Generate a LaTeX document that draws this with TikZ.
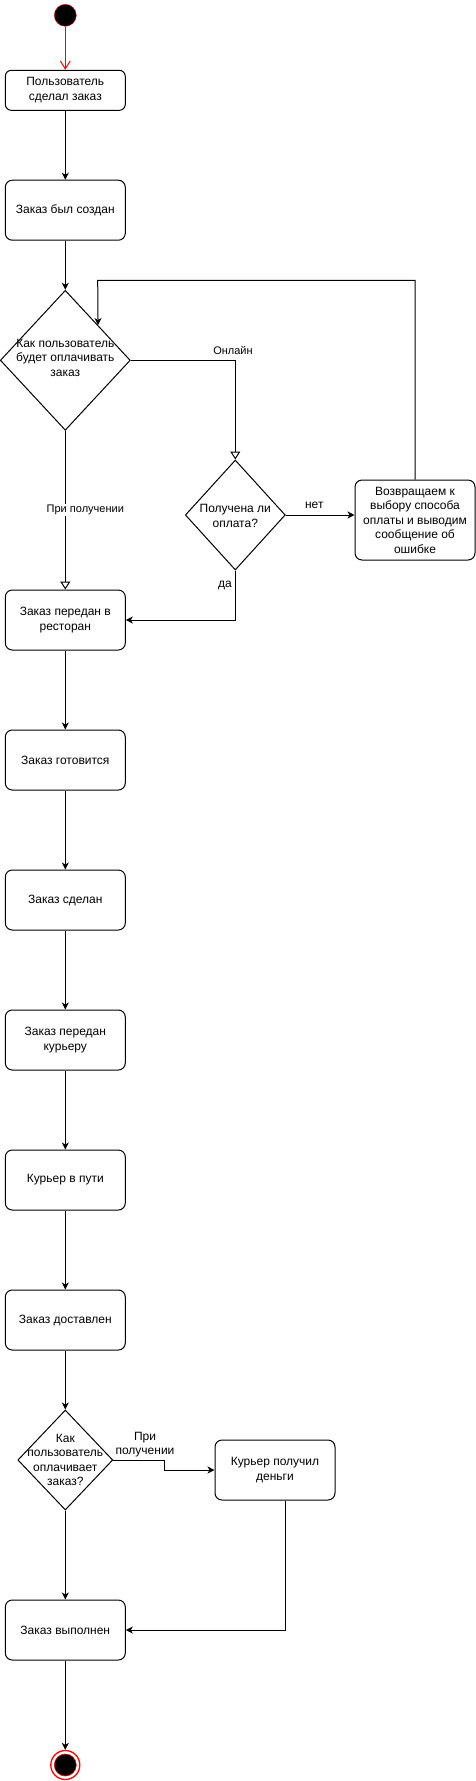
\documentclass[tikz,border=0pt]{standalone}
\usepackage{fontspec}
\setmainfont{Liberation Sans}
\usetikzlibrary{shapes.geometric,arrows.meta,calc}
\begin{document}
\begin{tikzpicture}[x=1pt,y=-1pt,
  box/.style={draw,rounded corners=7pt,minimum width=120pt,minimum height=60pt,align=center,inner sep=0pt,font=\fontsize{12}{14.5}\selectfont,line width=1pt},
  dia/.style={draw,diamond,inner sep=0pt,line width=1pt},
  txt/.style={align=center,inner sep=0pt,font=\fontsize{12}{14.5}\selectfont},
  lbl/.style={inner sep=1pt,align=center,font=\fontsize{11}{13}\selectfont},
  lblb/.style={inner sep=1pt,align=center,font=\fontsize{12}{14.5}\selectfont},
  flow/.style={line width=1pt,-{Stealth[length=7pt,width=7pt,inset=2pt]}},
  hollow/.style={line width=1pt,-{Triangle[open,length=8pt,width=10pt,fill=white]}},
  ]
\useasboundingbox (0,0) rectangle (476,1781);

% start
\node[circle,draw=red,fill=black,minimum size=22pt,inner sep=0pt] (start) at (65.3,15.3) {};

% boxes
\node[box,minimum height=40pt,rounded corners=6pt] (b1) at (65.3,90.3) {Пользователь\\сделал заказ};
\node[box] (b2) at (65.3,210.2) {Заказ был создан};

\node[dia,minimum width=130pt,minimum height=140pt] (d1) at (65.3,360.3) {};
\node[txt] (d1t) at (65.3,357.5) {Как пользователь\\будет оплачивать\\заказ};

\node[dia,minimum width=100pt,minimum height=110pt] (d2) at (235.3,515) {};
\node[txt] (d2t) at (235.3,515.8) {Получена ли\\оплата?};

\node[box,minimum height=80pt] (r4) at (415,520) {Возвращаем к\\выбору способа\\оплаты и выводим\\сообщение об\\ошибке};

\node[box] (r3) at (65.3,620) {Заказ передан в\\ресторан};
\node[box] (r5) at (65.3,760) {Заказ готовится};
\node[box] (r6) at (65.3,900) {Заказ сделан};
\node[box] (r7) at (65.3,1040) {Заказ передан\\курьеру};
\node[box] (r8) at (65.3,1180) {Курьер в пути};
\node[box] (r9) at (65.3,1320) {Заказ доставлен};

\node[dia,minimum width=95pt,minimum height=100pt] (d3) at (65.3,1460) {};
\node[txt] (d3t) at (65.3,1460) {Как\\пользователь\\оплачивает\\заказ?};

\node[box] (r10) at (275,1470) {Курьер получил\\деньги};
\node[box] (r11) at (65.3,1630) {Заказ выполнен};

% end
\node[circle,draw=red,fill=white,line width=1.3pt,minimum size=29pt,inner sep=0pt] (endo) at (65.3,1765) {};
\node[circle,draw=red,fill=black,line width=0.6pt,minimum size=22pt,inner sep=0pt] (endi) at (65.3,1765) {};

% connectors
\draw[red,line width=1pt,-{Straight Barb[length=8pt,width=10pt]}] (start) -- (b1);
\draw[flow] (b1) -- (b2);
\draw[flow] (b2) -- (d1);
\draw[hollow] (d1.east) -| (d2.north);
\node[lbl] (lon) at (233,350) {Онлайн};
\draw[flow] (d2.east) -- (d2.east -| r4.west);
\node[lblb] (lnet) at (314.3,505) {нет};
\draw[flow] (r4.north) |- (97.7,280.3) -- (d1.north east);
\draw[hollow] (d1.south) -- (r3.north);
\node[lbl,fill=white] (lpri) at (85.3,510) {При получении};
\draw[flow] (d2.south) |- (r3.east);
\node[lblb] (lda) at (225,585) {да};
\draw[flow] (r3) -- (r5);
\draw[flow] (r5) -- (r6);
\draw[flow] (r6) -- (r7);
\draw[flow] (r7) -- (r8);
\draw[flow] (r8) -- (r9);
\draw[flow] (r9) -- (d3);
\draw[flow] (d3.east) -- (164.3,1460) -- (164.3,1470) -- (r10.west);
\node[lblb] (lpri2) at (145,1444.5) {При\\получении};
\draw[flow] ([xshift=10.3pt]r10.south) |- (r11.east);
\draw[flow] (d3.south) -- (r11.north);
\draw[flow] (r11.south) -- (endo.north);
\end{tikzpicture}
\end{document}
